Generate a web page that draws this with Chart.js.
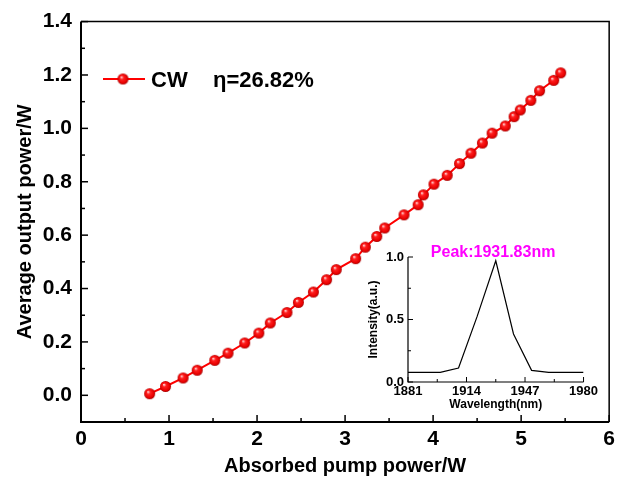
<!DOCTYPE html>
<html>
<head>
<meta charset="utf-8">
<script src="https://cdn.jsdelivr.net/npm/chart.js@4.4.1/dist/chart.umd.min.js"></script>
<style>
  html, body { margin: 0; padding: 0; background: #fff; }
  #wrap { position: relative; width: 620px; height: 485px; }
  #mainChart { position: absolute; left: 0; top: 0; }
  #insetChart { position: absolute; left: 360px; top: 240px; }
</style>
</head>
<body>
<div id="wrap">
  <canvas id="mainChart" width="620" height="485"></canvas>
  <canvas id="insetChart" width="240" height="180"></canvas>
</div>
<script>
// Main curve: absorbed pump power vs average output power (CW)
const pumpPower = [0.78, 0.96, 1.16, 1.32, 1.52, 1.67, 1.86, 2.02, 2.15, 2.34, 2.47, 2.64, 2.79, 2.90,
    3.12, 3.23, 3.36, 3.45, 3.67, 3.83, 3.89, 4.01, 4.16, 4.30, 4.43, 4.56, 4.67, 4.82, 4.92, 4.99,
    5.11, 5.21, 5.37, 5.45];
const outputPower = [0.006, 0.033, 0.065, 0.094, 0.131, 0.158, 0.196, 0.233, 0.271, 0.310, 0.348, 0.387,
    0.433, 0.471, 0.512, 0.555, 0.595, 0.627, 0.676, 0.714, 0.751, 0.791, 0.824, 0.868, 0.907, 0.945,
    0.982, 1.009, 1.044, 1.069, 1.105, 1.141, 1.180, 1.208];
const xTicks = [0, 1, 2, 3, 4, 5, 6];
const yTicks = [0, 0.2, 0.4, 0.6, 0.8, 1.0, 1.2, 1.4];
const seriesName = 'CW';
const slopeText = '\u03b7=26.82%';

// Inset: laser spectrum
const wavelength = [1881, 1899.2, 1909.5, 1920, 1930.5, 1940.5, 1950.7, 1960.3, 1980];
const intensity = [0.077, 0.077, 0.112, 0.525, 0.97, 0.384, 0.093, 0.077, 0.077];
const wavelengthTicks = [1881, 1914, 1947, 1980];
const intensityTicks = [0, 0.5, 1.0];
const peakWavelength = 1931.83;

const FONT = "'Liberation Sans', Arial, sans-serif";

// Shaded red sphere used as the point marker
function makeSphere(r) {
    const c = document.createElement('canvas');
    const s = Math.ceil(r * 2 + 2);
    c.width = s;
    c.height = s;
    const g = c.getContext('2d');
    const cx = s / 2, cy = s / 2;
    const grad = g.createRadialGradient(cx - r * 0.3, cy - r * 0.35, r * 0.05, cx, cy, r);
    grad.addColorStop(0, '#ffe0e0');
    grad.addColorStop(0.3, '#ff2020');
    grad.addColorStop(0.8, '#e80000');
    grad.addColorStop(1, '#a00000');
    g.fillStyle = grad;
    g.beginPath();
    g.arc(cx, cy, r, 0, Math.PI * 2);
    g.fill();
    return c;
}
const sphere = makeSphere(5.5);

// Inward major/minor ticks and axis frame
const inwardTicks = {
    id: 'inwardTicks',
    afterDraw(chart, args, opts) {
        const { ctx, chartArea: a, scales } = chart;
        ctx.save();
        ctx.strokeStyle = '#000';
        ctx.lineCap = 'butt';
        // frame
        if (opts.box) {
            ctx.lineWidth = opts.boxWidth;
            ctx.beginPath();
            ctx.moveTo(a.left, a.top);
            ctx.lineTo(a.right, a.top);
            ctx.lineTo(a.right, a.bottom);
            ctx.stroke();
        }
        ctx.lineWidth = opts.axisWidth;
        ctx.beginPath();
        ctx.moveTo(a.left, a.top);
        ctx.lineTo(a.left, a.bottom);
        ctx.lineTo(a.right, a.bottom);
        ctx.stroke();

        ctx.lineWidth = opts.tickWidth;
        const drawSet = (scale, isX) => {
            const vals = scale.ticks.map(t => t.value);
            const minors = [];
            for (let i = 0; i < vals.length - 1; i++) minors.push((vals[i] + vals[i + 1]) / 2);
            const step = vals[1] - vals[0];
            if (vals[0] - step / 2 > scale.min) minors.push(vals[0] - step / 2);
            if (vals[vals.length - 1] + step / 2 < scale.max) minors.push(vals[vals.length - 1] + step / 2);
            const one = (v, len) => {
                const p = scale.getPixelForValue(v);
                ctx.beginPath();
                if (isX) {
                    ctx.moveTo(p, a.bottom);
                    ctx.lineTo(p, a.bottom - len);
                } else {
                    ctx.moveTo(a.left, p);
                    ctx.lineTo(a.left + len, p);
                }
                ctx.stroke();
            };
            vals.forEach(v => one(v, opts.majorLen));
            minors.forEach(v => one(v, opts.minorLen));
        };
        drawSet(scales.x, true);
        drawSet(scales.y, false);
        ctx.restore();
    }
};

// Legend with the slope efficiency text
const customLegend = {
    id: 'customLegend',
    afterDraw(chart) {
        const ctx = chart.ctx;
        const ds = chart.data.datasets[0];
        ctx.save();
        ctx.strokeStyle = ds.borderColor;
        ctx.lineWidth = 2;
        ctx.beginPath();
        ctx.moveTo(103, 79);
        ctx.lineTo(145, 79);
        ctx.stroke();
        ctx.drawImage(sphere, 123 - sphere.width / 2, 79 - sphere.height / 2);
        ctx.fillStyle = '#000';
        ctx.font = 'bold 22px ' + FONT;
        ctx.textBaseline = 'alphabetic';
        ctx.fillText(seriesName, 151, 87);
        ctx.fillText(slopeText, 213, 87);
        ctx.restore();
    }
};

const mainChart = new Chart(document.getElementById('mainChart'), {
    type: 'line',
    data: {
        datasets: [{
            label: seriesName,
            data: pumpPower.map((x, i) => ({ x: x, y: outputPower[i] })),
            borderColor: '#ff0000',
            borderWidth: 2,
            pointStyle: sphere,
            pointRadius: 5.5,
            tension: 0,
        }],
    },
    options: {
        responsive: false,
        devicePixelRatio: 1,
        animation: false,
        layout: { padding: { left: 0, top: 17, right: 7, bottom: 0 } },
        plugins: {
            legend: { display: false },
            tooltip: { enabled: false },
            inwardTicks: { box: true, boxWidth: 1.5, axisWidth: 2, tickWidth: 1.5, majorLen: 7, minorLen: 4 },
        },
        scales: {
            x: {
                type: 'linear',
                min: 0,
                max: 6,
                afterBuildTicks: (s) => { s.ticks = xTicks.map(v => ({ value: v })); },
                afterFit: (s) => { s.height = 63; },
                grid: { display: false, drawTicks: false },
                border: { display: false },
                ticks: { color: '#000', font: { family: FONT, size: 21, weight: 'bold' }, padding: 5 },
                title: {
                    display: true, text: 'Absorbed pump power/W', color: '#000',
                    font: { family: FONT, size: 20, weight: 'bold' }, padding: { top: 0, bottom: 7 },
                },
            },
            y: {
                type: 'linear',
                min: -0.1,
                max: 1.4,
                afterBuildTicks: (s) => { s.ticks = yTicks.map(v => ({ value: v })); },
                afterFit: (s) => { s.width = 81; },
                grid: { display: false, drawTicks: false },
                border: { display: false },
                ticks: {
                    color: '#000', font: { family: FONT, size: 21, weight: 'bold' }, padding: 9,
                    callback: (v) => v.toFixed(1),
                },
                title: {
                    display: true, text: 'Average output power/W', color: '#000',
                    font: { family: FONT, size: 20, weight: 'bold' }, padding: { top: 13, bottom: 0 },
                },
            },
        },
    },
    plugins: [inwardTicks, customLegend],
});

// Peak label above the inset
const peakLabel = {
    id: 'peakLabel',
    afterDraw(chart) {
        const ctx = chart.ctx;
        ctx.save();
        ctx.fillStyle = '#ff00ff';
        ctx.font = 'bold 16px ' + FONT;
        ctx.textAlign = 'center';
        ctx.textBaseline = 'middle';
        ctx.fillText('Peak:' + peakWavelength.toFixed(2) + 'nm', chart.scales.x.getPixelForValue(peakWavelength) - 5, 13);
        ctx.restore();
    }
};

const insetChart = new Chart(document.getElementById('insetChart'), {
    type: 'line',
    data: {
        datasets: [{
            data: wavelength.map((x, i) => ({ x: x, y: intensity[i] })),
            borderColor: '#000',
            borderWidth: 1.2,
            pointRadius: 0,
            tension: 0,
        }],
    },
    options: {
        responsive: false,
        devicePixelRatio: 1,
        animation: false,
        layout: { padding: { left: 0, top: 17, right: 14, bottom: 0 } },
        plugins: {
            legend: { display: false },
            tooltip: { enabled: false },
            inwardTicks: { box: false, boxWidth: 1, axisWidth: 1.2, tickWidth: 1, majorLen: 5, minorLen: 3 },
        },
        scales: {
            x: {
                type: 'linear',
                min: 1881,
                max: 1980,
                afterBuildTicks: (s) => { s.ticks = wavelengthTicks.map(v => ({ value: v })); },
                afterFit: (s) => { s.height = 38; },
                grid: { display: false, drawTicks: false },
                border: { display: false },
                ticks: {
                    color: '#000', font: { family: FONT, size: 13, weight: 'bold' }, padding: 2,
                    callback: (v) => String(v),
                },
                title: {
                    display: true, text: 'Wavelength(nm)', color: '#000',
                    font: { family: FONT, size: 12, weight: 'bold' }, padding: { top: 0, bottom: 8 },
                },
            },
            y: {
                type: 'linear',
                min: 0,
                max: 1.0,
                afterBuildTicks: (s) => { s.ticks = intensityTicks.map(v => ({ value: v })); },
                afterFit: (s) => { s.width = 48; },
                grid: { display: false, drawTicks: false },
                border: { display: false },
                ticks: {
                    color: '#000', font: { family: FONT, size: 13, weight: 'bold' }, padding: 4,
                    callback: (v) => v.toFixed(1),
                },
                title: {
                    display: true, text: 'Intensity(a.u.)', color: '#000',
                    font: { family: FONT, size: 12, weight: 'bold' }, padding: { top: 6, bottom: 0 },
                },
            },
        },
    },
    plugins: [inwardTicks, peakLabel],
});
</script>
</body>
</html>
